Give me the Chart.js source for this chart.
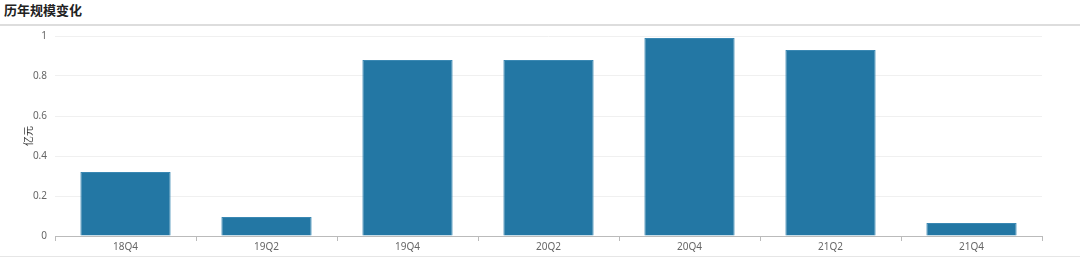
<!DOCTYPE html>
<html>
<head>
<meta charset="utf-8">
<script src="https://cdn.jsdelivr.net/npm/chart.js@4"></script>
<style>
  body { margin: 0; background: #fff; width: 1080px; height: 258px; overflow: hidden; }
  .title { height: 24px; line-height: 24px; padding-left: 4px; font: bold 13px "Noto Sans CJK SC", sans-serif; color: #222; border-bottom: 2px solid #ddd; }
  .wrap { position: relative; width: 1080px; height: 234px; margin-top: -4px; border-bottom: 1px solid #e6e6e6; }
</style>
</head>
<body>
<div class="title">历年规模变化</div>
<div class="wrap"><canvas id="myChart"></canvas></div>
<script>
const ctx = document.getElementById('myChart');
const quarters = ['18Q4', '19Q2', '19Q4', '20Q2', '20Q4', '21Q2', '21Q4'];
const scale = [0.32, 0.095, 0.88, 0.88, 0.99, 0.93, 0.065];
const yTicks = [0, 0.2, 0.4, 0.6, 0.8, 1];

const myChart = new Chart(ctx, {
    type: 'bar',
    data: {
        labels: quarters,
        datasets: [{
            data: scale,
            backgroundColor: '#2377a4',
            borderColor: '#3a88b3',
            borderWidth: 1,
            barPercentage: 0.64,
            categoryPercentage: 1
        }]
    },
    options: {
        responsive: true,
        maintainAspectRatio: false,
        animation: false,
        layout: { padding: { left: 20, right: 38, top: 0, bottom: 3 } },
        plugins: { legend: { display: false }, tooltip: { enabled: false } },
        scales: {
            x: {
                grid: { drawOnChartArea: false, tickLength: 5, color: '#bbb' },
                border: { color: '#bbb' },
                ticks: { color: '#666', font: { family: 'Noto Sans', size: 10 }, padding: 0 }
            },
            y: {
                min: 0,
                max: 1,
                afterBuildTicks: (axis) => { axis.ticks = yTicks.map(v => ({ value: v })); },
                afterFit: (axis) => { axis.width = 35; },
                grid: { drawTicks: false, color: '#f0f0f0' },
                border: { display: false },
                ticks: { color: '#666', padding: 8, font: { family: 'Noto Sans', size: 10 }, callback: (v) => String(v) },
                title: { display: true, text: '亿元', color: '#333', font: { family: 'Noto Sans CJK SC', size: 10 }, padding: { top: 2 } }
            }
        }
    }
});
</script>
</body>
</html>
